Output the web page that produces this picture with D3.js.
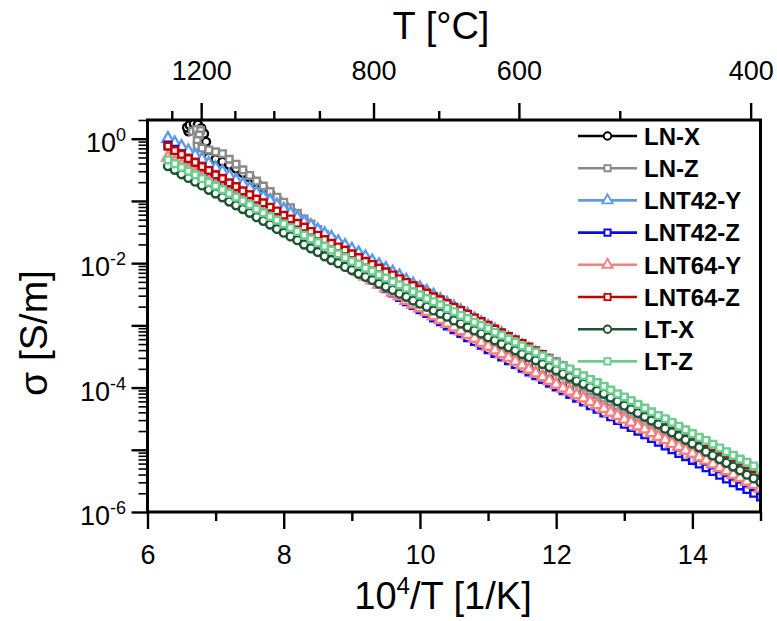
<!DOCTYPE html>
<html><head><meta charset="utf-8">
<script src="https://cdn.jsdelivr.net/npm/d3@7"></script>
<style>
body{margin:0;background:#fff}
text{font-family:"Liberation Sans",Arial,sans-serif;fill:#000}
</style></head>
<body><svg id="chart" width="777" height="621"></svg>
<script>
// ---------- DATA (log10 of sigma in S/m) ----------
const invT = [
  6.3,6.4,6.5,6.6,6.7,6.8,6.9,7.0,7.1,7.2,
  7.3,7.4,7.5,7.6,7.7,7.8,7.9,8.0,8.1,8.2,
  8.3,8.4,8.5,8.6,8.7,8.8,8.9,9.0,9.1,9.2,
  9.3,9.4,9.5,9.6,9.7,9.8,9.9,10.0,10.1,10.2,
  10.3,10.4,10.5,10.6,10.7,10.8,10.9,11.0,11.1,11.2,
  11.3,11.4,11.5,11.6,11.7,11.8,11.9,12.0,12.1,12.2,
  12.3,12.4,12.5,12.6,12.7,12.8,12.9,13.0,13.1,13.2,
  13.3,13.4,13.5,13.6,13.7,13.8,13.9,14.0,14.1,14.2,
  14.3,14.4,14.5,14.6,14.7,14.8,14.9,15.0];

const lnX = [
  null,null,null,null,null,null,-0.30,-0.33,-0.37,-0.42,
  -0.48,-0.55,-0.62,-0.70,-0.79,-0.88,-0.97,-1.06,-1.15,-1.24,
  -1.33,-1.42,-1.52,-1.60,-1.68,-1.76,-1.84,-1.92,-1.99,-2.07,
  -2.15,-2.23,-2.31,-2.37,-2.43,-2.49,-2.55,-2.61,-2.67,-2.73,
  -2.79,-2.86,-2.92,-2.98,-3.04,-3.10,-3.16,-3.22,-3.28,-3.34,
  -3.40,-3.46,-3.52,-3.59,-3.65,-3.71,-3.77,-3.83,-3.89,-3.95,
  -4.01,-4.07,-4.13,-4.19,-4.25,-4.32,-4.38,-4.44,-4.50,-4.56,
  -4.62,-4.68,-4.74,-4.80,-4.86,-4.92,-4.98,-5.04,-5.10,-5.17,
  -5.23,-5.29,-5.35,-5.41,-5.47,-5.53,-5.59,-5.65];
const lnXHookT = [6.60,6.58,6.62,6.68,6.74,6.79,6.83,6.86,6.88];
const lnXHookS = [0.12,0.18,0.22,0.24,0.23,0.17,0.08,-0.05,-0.18];

const lnZ = [
  null,null,null,null,null,-0.15,-0.18,-0.21,-0.24,-0.33,
  -0.41,-0.50,-0.59,-0.68,-0.76,-0.85,-0.94,-1.02,-1.11,-1.20,
  -1.29,-1.37,-1.46,-1.54,-1.62,-1.70,-1.78,-1.86,-1.93,-2.01,
  -2.09,-2.17,-2.25,-2.31,-2.37,-2.43,-2.49,-2.55,-2.61,-2.67,
  -2.73,-2.79,-2.85,-2.91,-2.97,-3.03,-3.09,-3.15,-3.21,-3.27,
  -3.33,-3.39,-3.45,-3.51,-3.57,-3.63,-3.69,-3.75,-3.81,-3.87,
  -3.93,-3.99,-4.05,-4.11,-4.17,-4.23,-4.29,-4.35,-4.41,-4.47,
  -4.53,-4.59,-4.65,-4.71,-4.77,-4.83,-4.89,-4.95,-5.01,-5.07,
  -5.13,-5.19,-5.25,-5.31,-5.37,-5.43,-5.49,-5.55];
const lnZHookT = [6.66,6.72,6.78,6.76,6.73,6.73];
const lnZHookS = [0.12,0.15,0.13,0.06,-0.03,-0.12];

const lnt42Y = [
  0.00,-0.07,-0.13,-0.20,-0.27,-0.33,-0.40,-0.47,-0.53,-0.60,
  -0.67,-0.73,-0.80,-0.87,-0.94,-1.00,-1.07,-1.14,-1.20,-1.27,
  -1.34,-1.40,-1.47,-1.53,-1.59,-1.66,-1.72,-1.78,-1.84,-1.90,
  -1.97,-2.03,-2.09,-2.15,-2.21,-2.28,-2.34,-2.40,-2.46,-2.52,
  -2.59,-2.65,-2.71,-2.77,-2.83,-2.90,-2.96,-3.02,-3.08,-3.14,
  -3.21,-3.27,-3.33,-3.39,-3.45,-3.52,-3.58,-3.64,-3.70,-3.76,
  -3.83,-3.89,-3.95,-4.01,-4.07,-4.14,-4.20,-4.26,-4.32,-4.38,
  -4.45,-4.51,-4.57,-4.63,-4.69,-4.76,-4.82,-4.88,-4.94,-5.00,
  -5.07,-5.13,-5.19,-5.25,-5.31,-5.38,-5.44,-5.50];

const lnt42Z = [
  -0.10,-0.17,-0.24,-0.32,-0.39,-0.46,-0.53,-0.61,-0.68,-0.75,
  -0.82,-0.90,-0.97,-1.04,-1.11,-1.19,-1.26,-1.33,-1.40,-1.48,
  -1.55,-1.62,-1.69,-1.77,-1.84,-1.91,-1.98,-2.06,-2.13,-2.20,
  -2.27,-2.34,-2.41,-2.48,-2.55,-2.62,-2.68,-2.75,-2.81,-2.88,
  -2.94,-3.01,-3.07,-3.13,-3.20,-3.26,-3.32,-3.39,-3.45,-3.51,
  -3.57,-3.63,-3.69,-3.75,-3.81,-3.87,-3.93,-3.99,-4.05,-4.11,
  -4.17,-4.23,-4.29,-4.35,-4.41,-4.47,-4.53,-4.59,-4.64,-4.70,
  -4.76,-4.82,-4.88,-4.94,-5.00,-5.06,-5.11,-5.17,-5.23,-5.29,
  -5.35,-5.41,-5.47,-5.53,-5.58,-5.64,-5.70,-5.76];

const lnt64Y = [
  -0.30,-0.37,-0.43,-0.50,-0.56,-0.63,-0.69,-0.76,-0.83,-0.89,
  -0.96,-1.02,-1.09,-1.15,-1.22,-1.29,-1.35,-1.42,-1.48,-1.55,
  -1.61,-1.68,-1.75,-1.81,-1.88,-1.94,-2.01,-2.07,-2.14,-2.21,
  -2.27,-2.34,-2.40,-2.47,-2.53,-2.60,-2.66,-2.72,-2.78,-2.85,
  -2.91,-2.97,-3.03,-3.09,-3.15,-3.21,-3.28,-3.34,-3.40,-3.46,
  -3.52,-3.58,-3.64,-3.71,-3.77,-3.83,-3.89,-3.95,-4.01,-4.06,
  -4.12,-4.17,-4.23,-4.28,-4.34,-4.40,-4.45,-4.51,-4.56,-4.62,
  -4.67,-4.73,-4.79,-4.84,-4.90,-4.95,-5.01,-5.06,-5.12,-5.17,
  -5.23,-5.29,-5.34,-5.40,-5.45,-5.51,-5.56,-5.62];

const lnt64Z = [
  -0.12,-0.19,-0.25,-0.32,-0.38,-0.45,-0.51,-0.58,-0.64,-0.71,
  -0.77,-0.84,-0.90,-0.97,-1.03,-1.10,-1.16,-1.23,-1.29,-1.36,
  -1.42,-1.49,-1.55,-1.62,-1.68,-1.74,-1.79,-1.85,-1.91,-1.97,
  -2.02,-2.08,-2.14,-2.19,-2.25,-2.31,-2.36,-2.42,-2.48,-2.54,
  -2.59,-2.65,-2.71,-2.76,-2.82,-2.88,-2.94,-3.00,-3.06,-3.12,
  -3.18,-3.23,-3.29,-3.35,-3.41,-3.47,-3.53,-3.59,-3.65,-3.71,
  -3.77,-3.82,-3.88,-3.94,-4.00,-4.06,-4.12,-4.18,-4.24,-4.30,
  -4.36,-4.41,-4.47,-4.53,-4.59,-4.65,-4.71,-4.77,-4.83,-4.89,
  -4.95,-5.00,-5.06,-5.12,-5.18,-5.24,-5.30,-5.36];

const ltX = [
  -0.44,-0.50,-0.57,-0.63,-0.69,-0.75,-0.82,-0.88,-0.94,-1.01,
  -1.07,-1.13,-1.19,-1.26,-1.32,-1.38,-1.45,-1.51,-1.57,-1.63,
  -1.70,-1.76,-1.82,-1.89,-1.95,-2.00,-2.06,-2.11,-2.17,-2.22,
  -2.27,-2.33,-2.38,-2.43,-2.49,-2.54,-2.60,-2.65,-2.70,-2.76,
  -2.81,-2.86,-2.92,-2.97,-3.03,-3.08,-3.13,-3.19,-3.24,-3.30,
  -3.35,-3.40,-3.46,-3.51,-3.56,-3.62,-3.67,-3.72,-3.78,-3.83,
  -3.89,-3.94,-3.99,-4.05,-4.10,-4.16,-4.22,-4.29,-4.35,-4.41,
  -4.47,-4.53,-4.59,-4.66,-4.72,-4.78,-4.84,-4.90,-4.96,-5.03,
  -5.09,-5.15,-5.21,-5.27,-5.33,-5.40,-5.46,-5.52];

const ltZ = [
  -0.34,-0.40,-0.46,-0.52,-0.58,-0.64,-0.70,-0.76,-0.82,-0.88,
  -0.94,-1.00,-1.06,-1.13,-1.19,-1.25,-1.31,-1.37,-1.43,-1.49,
  -1.55,-1.61,-1.67,-1.73,-1.79,-1.85,-1.91,-1.97,-2.02,-2.08,
  -2.13,-2.19,-2.24,-2.30,-2.35,-2.40,-2.46,-2.51,-2.57,-2.62,
  -2.67,-2.73,-2.78,-2.84,-2.89,-2.95,-3.00,-3.05,-3.11,-3.16,
  -3.22,-3.27,-3.33,-3.38,-3.43,-3.49,-3.54,-3.60,-3.65,-3.70,
  -3.76,-3.81,-3.87,-3.92,-3.98,-4.04,-4.10,-4.15,-4.21,-4.27,
  -4.33,-4.39,-4.45,-4.50,-4.56,-4.62,-4.68,-4.74,-4.80,-4.85,
  -4.91,-4.97,-5.03,-5.09,-5.15,-5.20,-5.26,-5.32];

const seriesNames  = ["LN-X","LN-Z","LNT42-Y","LNT42-Z","LNT64-Y","LNT64-Z","LT-X","LT-Z"];
const seriesColors = ["#000000","#8a8a8a","#5b9bee","#0a0af2","#f48080","#c40000","#1c5432","#6ccd90"];
const seriesShapes = ["circle","square","triangle","square","triangle","square","circle","square"];
const seriesValues = [lnX, lnZ, lnt42Y, lnt42Z, lnt64Y, lnt64Z, ltX, ltZ];
const seriesHooksT = [lnXHookT, lnZHookT, [], [], [], [], [], []];
const seriesHooksS = [lnXHookS, lnZHookS, [], [], [], [], [], []];

const bottomMajor = [6, 8, 10, 12, 14];
const bottomMinor = [7, 9, 11, 13, 15];
const topMajorC = [1200, 800, 600, 400];
const topMinorC = [1300, 1100, 1000, 900, 700, 500];
const yDecades = [1, 1e-1, 1e-2, 1e-3, 1e-4, 1e-5, 1e-6];
const yLabelExp = [0, -2, -4, -6];

// ---------- CHART ----------
const svg = d3.select("#chart");
const L = 147.5, R = 760.5, T = 120, B = 512;
const x = d3.scaleLinear().domain([6, 15]).range([L, R]);
const y = d3.scaleLog().domain([1e-6, 2]).range([B, T]);
const toInv = c => 1e4 / (c + 273.15);

svg.append("defs").append("clipPath").attr("id", "clip")
  .append("rect").attr("x", L).attr("y", T).attr("width", R - L).attr("height", B - T);

const symType = {circle: d3.symbolCircle, square: d3.symbolSquare, triangle: d3.symbolTriangle};
const symSize = {circle: 50, square: 44, triangle: 56};
const legSize = {circle: 44, square: 38, triangle: 46};

const plot = svg.append("g").attr("clip-path", "url(#clip)");
const line = d3.line().x(d => x(d[0])).y(d => y(Math.pow(10, d[1])));

seriesNames.forEach((name, k) => {
  const pts = [];
  seriesHooksT[k].forEach((t, i) => pts.push([t, seriesHooksS[k][i]]));
  seriesValues[k].forEach((v, i) => { if (v !== null) pts.push([invT[i], v]); });
  const g = plot.append("g");
  g.append("path").attr("d", line(pts)).attr("fill", "none")
    .attr("stroke", seriesColors[k]).attr("stroke-width", 2);
  const sym = d3.symbol().type(symType[seriesShapes[k]]).size(symSize[seriesShapes[k]]);
  g.selectAll("path.m").data(pts).join("path").attr("class", "m")
    .attr("d", sym)
    .attr("transform", d => `translate(${x(d[0])},${y(Math.pow(10, d[1]))})`)
    .attr("fill", "#fff").attr("stroke", seriesColors[k]).attr("stroke-width", 2.4);
});

// axes
function styleAxis(g) {
  g.select(".domain").remove();
  g.selectAll(".tick line").attr("stroke", "#000").attr("stroke-width", 2.4);
}
// bottom
svg.append("g").attr("transform", `translate(0,${B})`)
  .call(d3.axisBottom(x).tickValues(bottomMajor).tickSize(17).tickPadding(16).tickFormat(d3.format("d")))
  .call(styleAxis)
  .call(g => g.selectAll("text").attr("font-size", 27).attr("font-family", "Liberation Sans, Arial, sans-serif"));
svg.append("g").attr("transform", `translate(0,${B})`)
  .call(d3.axisBottom(x).tickValues(bottomMinor).tickSize(9).tickFormat(""))
  .call(styleAxis);
// top (temperature in °C)
svg.append("g").attr("transform", `translate(0,${T})`)
  .call(d3.axisTop(x).tickValues(topMajorC.map(toInv)).tickSize(17).tickPadding(23)
    .tickFormat(d => Math.round(1e4 / d - 273.15)))
  .call(styleAxis)
  .call(g => g.selectAll("text").attr("font-size", 27).attr("font-family", "Liberation Sans, Arial, sans-serif"));
svg.append("g").attr("transform", `translate(0,${T})`)
  .call(d3.axisTop(x).tickValues(topMinorC.map(toInv)).tickSize(9).tickFormat(""))
  .call(styleAxis);
// left
const minorY = [];
yDecades.forEach(d => { for (let m = 2; m <= 9; m++) { const v = d * m; if (v <= 2.0001 && v > 1e-6) minorY.push(v); } });
svg.append("g").attr("transform", `translate(${L},0)`)
  .call(d3.axisLeft(y).tickValues(yDecades).tickSize(16).tickFormat(""))
  .call(styleAxis);
svg.append("g").attr("transform", `translate(${L},0)`)
  .call(d3.axisLeft(y).tickValues(minorY).tickSize(9).tickFormat(""))
  .call(g => { g.select(".domain").remove(); g.selectAll(".tick line").attr("stroke", "#000").attr("stroke-width", 1.6); });
const yl = svg.append("g");
yLabelExp.forEach(e => {
  const t = yl.append("text").attr("x", 126).attr("y", y(Math.pow(10, e)) + 13)
    .attr("text-anchor", "end").attr("font-size", 27);
  t.append("tspan").text("10");
  t.append("tspan").attr("font-size", 18).attr("dy", -11).text(String(e));
});

// frame
svg.append("rect").attr("x", L).attr("y", T).attr("width", R - L).attr("height", B - T)
  .attr("fill", "none").attr("stroke", "#000").attr("stroke-width", 3);

// titles
svg.append("text").attr("x", 441).attr("y", 39).attr("text-anchor", "middle")
  .attr("font-size", 38).text("T [°C]");
const bt = svg.append("text").attr("x", 443).attr("y", 609).attr("text-anchor", "middle").attr("font-size", 38);
bt.append("tspan").text("10");
bt.append("tspan").attr("font-size", 24).attr("dy", -15).text("4");
bt.append("tspan").attr("dy", 15).text("/T [1/K]");
svg.append("text").attr("transform", "translate(47,333) rotate(-90)").attr("text-anchor", "middle")
  .attr("font-size", 39).text("σ [S/m]");

// legend
const leg = svg.append("g");
seriesNames.forEach((name, k) => {
  const cy = 136 + k * 32.2;
  leg.append("line").attr("x1", 578).attr("x2", 637).attr("y1", cy).attr("y2", cy)
    .attr("stroke", seriesColors[k]).attr("stroke-width", 2.6);
  leg.append("path").attr("d", d3.symbol().type(symType[seriesShapes[k]]).size(legSize[seriesShapes[k]])())
    .attr("transform", `translate(607.5,${cy})`)
    .attr("fill", "#fff").attr("stroke", seriesColors[k]).attr("stroke-width", 1.9);
  leg.append("text").attr("x", 644).attr("y", cy + 8.8).attr("font-size", 24)
    .attr("font-weight", "bold").text(name);
});
</script>
</body></html>
